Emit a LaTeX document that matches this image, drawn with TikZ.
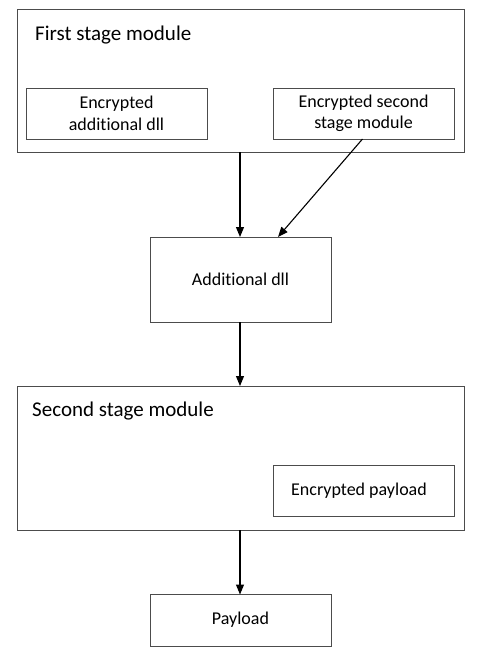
\documentclass[tikz,border=0pt]{standalone}
\usepackage{fontspec}
\setmainfont{Carlito}[Ligatures=NoCommon]
\usetikzlibrary{arrows.meta}
\begin{document}
\begin{tikzpicture}[x=1pt,y=-1pt,
  box/.style={draw=black!70, line width=1pt, fill=white},
  lbl/.style={font=\fontsize{18}{21.5}\selectfont, align=center, inner sep=0pt},
  ttl/.style={font=\fontsize{21}{25}\selectfont, anchor=west, inner sep=0pt},
  arr/.style={-{Triangle[length=10pt,width=8pt]}, line width=1.1pt, black}]
\useasboundingbox (0,0) rectangle (480,654);
\fill[white] (0,0) rectangle (480,654);
% first stage
\draw[box] (17.5,9) rectangle (464.5,152);
\node[ttl] (t1) at (35,35) {First stage module};
\draw[box] (26,88) rectangle (207,139);
\node[lbl] (ead) at (116.5,113.5) {Encrypted\\additional dll};
\draw[box] (273,88) rectangle (454,139);
\node[lbl] (essm) at (363.5,113.5) {Encrypted second\\stage module};
\coordinate (fsb) at (240,152);
\coordinate (essmb) at (362.5,139);
% additional dll
\draw[box] (150,237) rectangle (331,322);
\node[lbl] (adll) at (240.5,279.5) {Additional dll};
\coordinate (adt) at (240,237);
\coordinate (adt2) at (278,237);
\coordinate (adb) at (240,322);
% second stage
\draw[box] (17.5,386) rectangle (464.5,530);
\node[ttl] (t2) at (32,411) {Second stage module};
\draw[box] (273,465) rectangle (454,516);
\node[lbl] (ep) at (359,490.5) {Encrypted payload};
\coordinate (sst) at (240,386);
\coordinate (ssb) at (240,530);
% payload
\draw[box] (150,594.5) rectangle (331,646);
\node[lbl] (pl) at (240.5,619.5) {Payload};
\coordinate (plt) at (240,594.5);
% arrows
\draw[arr] (fsb) -- (adt);
\draw[arr] (essmb) -- (adt2);
\draw[arr] (adb) -- (sst);
\draw[arr] (ssb) -- (plt);
\end{tikzpicture}
\end{document}
